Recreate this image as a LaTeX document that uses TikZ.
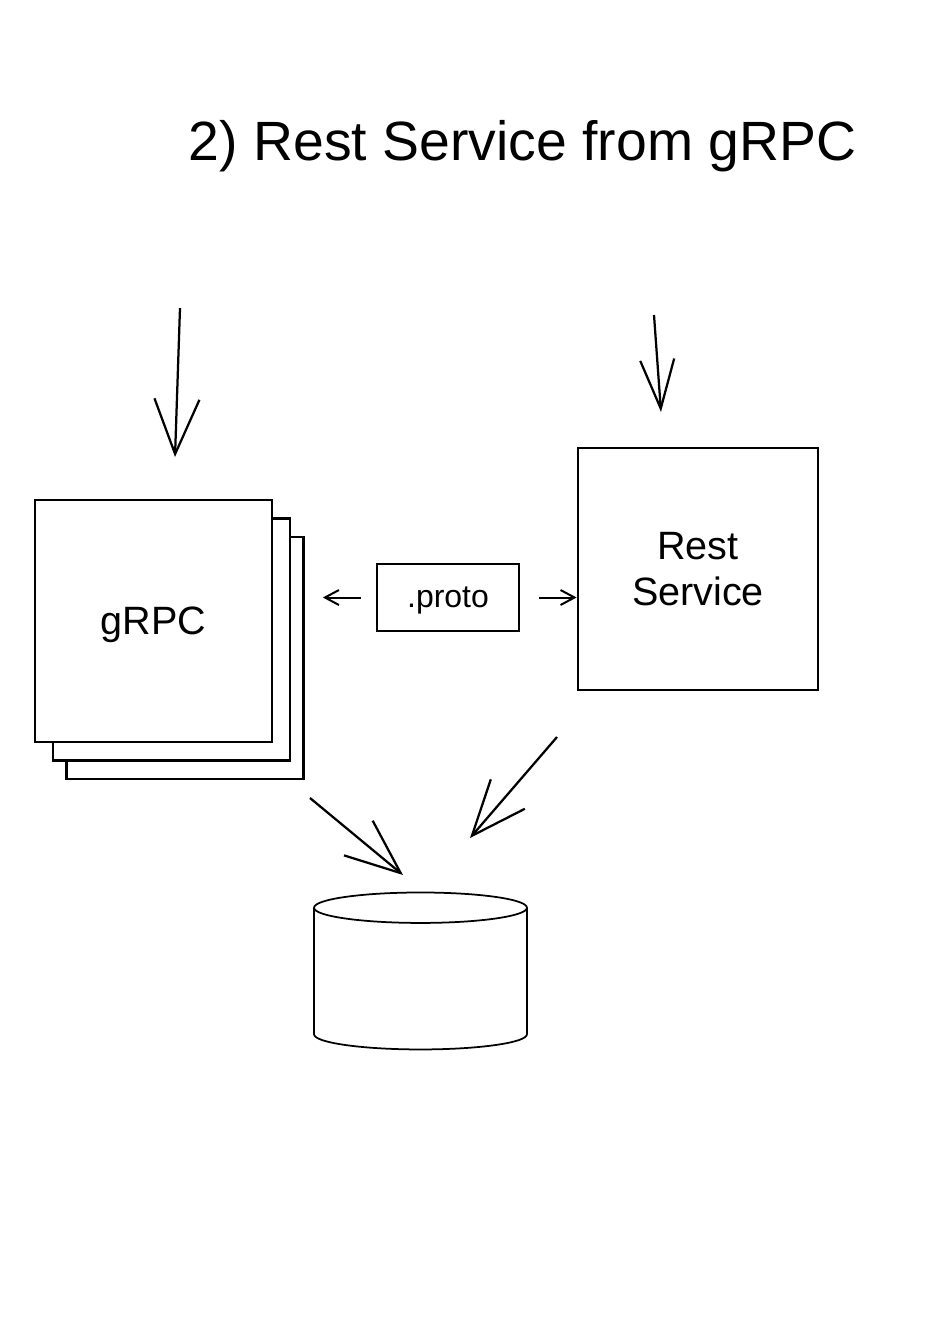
\documentclass[tikz,border=0pt]{standalone}
\usepackage{fontspec}
\setmainfont{Liberation Sans}
\usetikzlibrary{arrows.meta}
\usetikzlibrary{positioning,shapes.geometric}

\tikzset{
  sheet/.style={draw, fill=white, rectangle, inner sep=0pt, text depth=0pt, minimum width=4.74cm, minimum height=4.84cm, line width=0.55mm},
  bigarrow/.style={-{Straight Barb[length=1.1cm,width=0.9cm]}, line width=0.45mm},
  smallarrow/.style={-{Straight Barb[length=0.28cm,width=0.3cm]}, line width=0.4mm},
}

\begin{document}
\begin{tikzpicture} [x=0.02cm, y=-0.02cm, line width=0.4mm, font=\fontsize{22.5}{26}\selectfont]

  \useasboundingbox (0,0) rectangle (942,1330);

  \node (title) [anchor=base, font=\fontsize{31.5}{38}\selectfont] at (522.5,160) {2) Rest Service from gRPC};

  % stack of gRPC instances
  \node[sheet] (grpc3) at (185,658) {};
  \node[sheet] (grpc2) at (171.5,639.5) {};
  \node[sheet] (grpc) at (153.5,621) {gRPC};

  \node[draw, rectangle, text depth=0pt, minimum width=2.84cm, minimum height=1.34cm, line width=0.55mm, font=\fontsize{18.2}{22}\selectfont] (proto) at (448,597.5) {.proto};
  \node[sheet, minimum width=4.8cm, align=center] (rest) at (698,569) {Rest\\Service};

  \node[draw, cylinder, shape border rotate=90, aspect=2.6, minimum width=4.26cm, minimum height=3.14cm, line width=0.35mm] (db) at (420.5,981.5) {};

  \coordinate (grpcuser) at (180,308);
  \coordinate (grpcentry) at (175,457);
  \coordinate (restuser) at (654,315);
  \coordinate (restentry) at (661,412);
  \coordinate (grpcout) at (310,798);
  \coordinate (dbleft) at (403,875);
  \coordinate (restout) at (557,737);
  \coordinate (dbright) at (470,838);

  \draw[bigarrow] (grpcuser) -- (grpcentry);
  \draw[bigarrow, -{Straight Barb[length=0.98cm,width=0.68cm]}] (restuser) -- (restentry);
  \draw[bigarrow] (grpcout) -- (dbleft);
  \draw[bigarrow] (restout) -- (dbright);

  \draw[smallarrow, shorten <=0.3cm, shorten >=0.36cm] (proto.west) -- (proto.west -| grpc3.east);
  \draw[smallarrow, shorten <=0.38cm] (proto.east) -- (proto.east -| rest.west);
\end{tikzpicture}
\end{document}
